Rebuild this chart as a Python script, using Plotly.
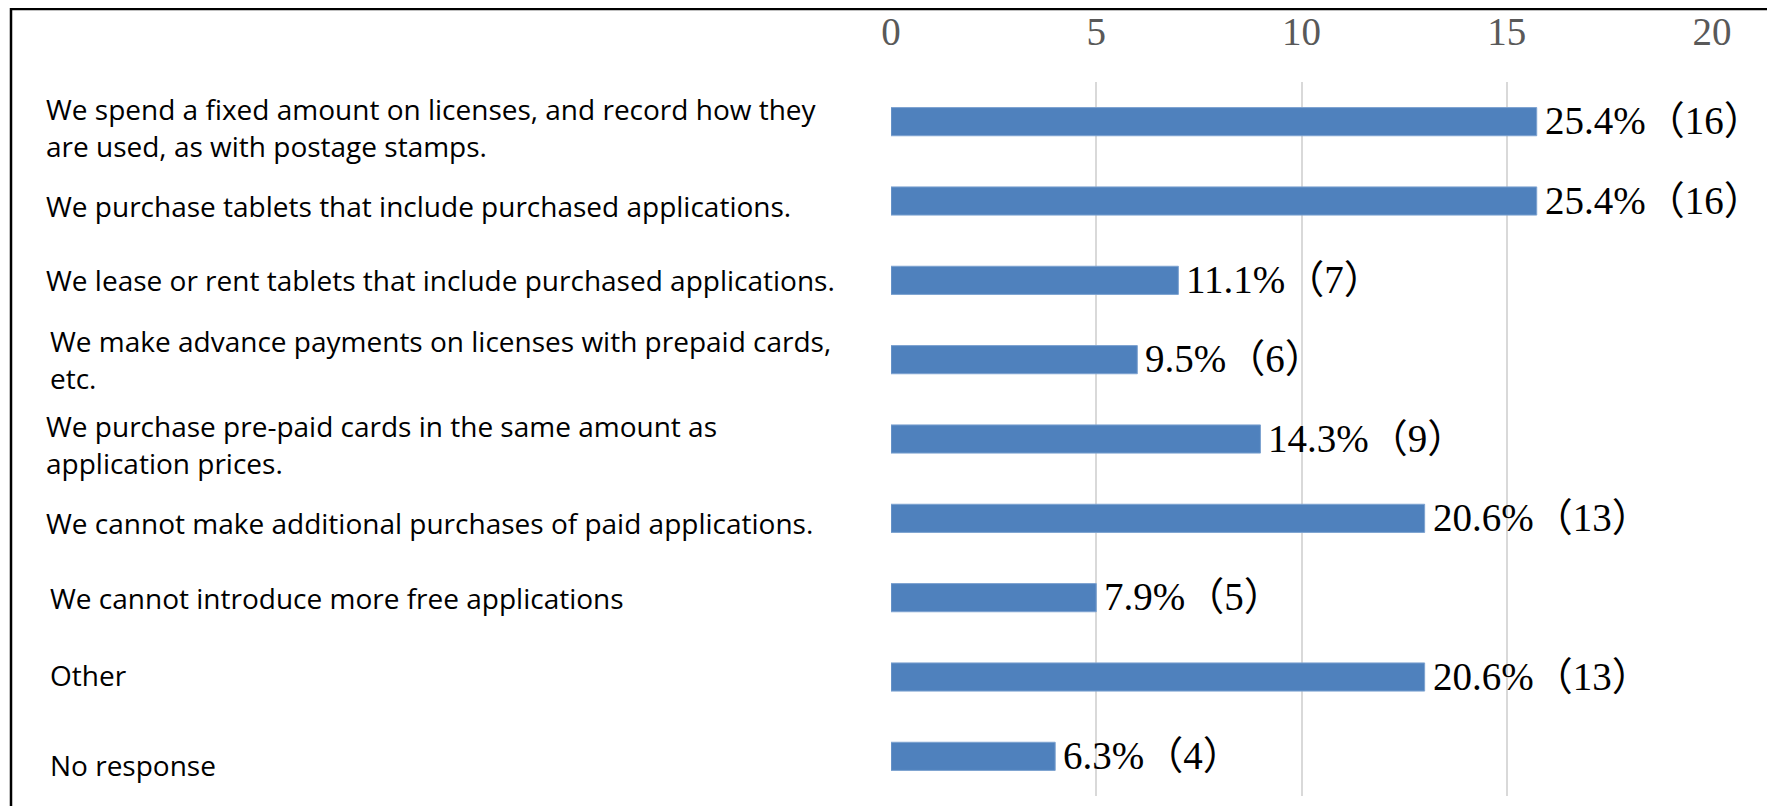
import plotly.graph_objects as go

# ---- data ----
categories = [
    "We spend a fixed amount on licenses, and record how they<br>are used, as with postage stamps.",
    "We purchase tablets that include purchased applications.",
    "We lease or rent tablets that include purchased applications.",
    "We make advance payments on licenses with prepaid cards,<br>etc.",
    "We purchase pre-paid cards in the same amount as<br>application prices.",
    "We cannot make additional purchases of paid applications.",
    "We cannot introduce more free applications",
    "Other",
    "No response",
]
counts = [16, 16, 7, 6, 9, 13, 5, 13, 4]
percents = ["25.4", "25.4", "11.1", "9.5", "14.3", "20.6", "7.9", "20.6", "6.3"]
# bar lengths as drawn in the picture (the two 16-bars are drawn slightly short)
bar_lengths = [15.73, 15.73, 7, 6, 9, 13, 5, 13, 4]
tick_values = [0, 5, 10, 15, 20]

# ---- layout geometry (pixels, figure coordinates; page has an 8px body margin) ----
OFF = 8
W, H = 1775, 806
ML = 891 - OFF
MT = 82 - OFF
MR = W - (1712 - OFF)
MB = H - (796 - OFF)
PW = W - ML - MR
PH = H - MT - MB


def px_x(px):
    return (px - OFF - ML) / PW


def px_y(py):
    return (H - MB - (py - OFF)) / PH


label_x_px = [44, 44, 44, 48, 44, 44, 48, 48, 48]
label_nudge_px = [6, 5, 0, 0, 5, 5, 0, -2, 9]
LINE_GAP = 37

ypos = list(range(len(categories)))
texts = [f"{p}%（{c}）" for p, c in zip(percents, counts)]

serif = "'Liberation Serif', 'Noto Sans CJK JP', serif"
sans = "'Open Sans', 'Noto Sans', sans-serif"

fig = go.Figure(
    go.Bar(
        x=bar_lengths,
        y=ypos,
        orientation="h",
        marker=dict(color="#4F81BD", line=dict(color="#7DA2D0", width=1)),
        width=0.355,
        hoverinfo="skip",
    )
)

annotations = []
for i, cat in enumerate(categories):
    lines = cat.split("<br>")
    n = len(lines)
    for k, line in enumerate(lines):
        dy = (k - (n - 1) / 2) * LINE_GAP + label_nudge_px[i]
        annotations.append(
            dict(
                x=px_x(label_x_px[i]),
                xref="paper",
                y=i,
                yref="y",
                text=line,
                showarrow=False,
                xanchor="left",
                yanchor="middle",
                align="left",
                yshift=-dy,
                font=dict(family=sans, size=28, color="#000000"),
            )
        )

for i, t in enumerate(texts):
    annotations.append(
        dict(
            x=bar_lengths[i],
            xref="x",
            y=i,
            yref="y",
            text=t,
            showarrow=False,
            xanchor="left",
            yanchor="middle",
            xshift=6,
            yshift=1,
            font=dict(family=serif, size=39, color="#000000"),
        )
    )

shapes = [
    dict(
        type="path",
        xref="paper",
        yref="paper",
        path=(
            f"M {px_x(11)},{px_y(840)} L {px_x(11)},{px_y(9)} "
            f"L {px_x(1771)},{px_y(9)} L {px_x(1771)},{px_y(840)}"
        ),
        line=dict(color="#000000", width=2.5),
        layer="above",
    )
]

fig.update_layout(
    width=W,
    height=H,
    margin=dict(l=ML, r=MR, t=MT, b=MB, pad=0, autoexpand=False),
    paper_bgcolor="white",
    plot_bgcolor="white",
    showlegend=False,
    annotations=annotations,
    shapes=shapes,
    xaxis=dict(
        range=[0, 20],
        side="top",
        tickmode="array",
        tickvals=tick_values,
        ticktext=[str(v) for v in tick_values],
        showgrid=True,
        gridcolor="#D9D9D9",
        gridwidth=2,
        zeroline=False,
        showline=False,
        ticks="",
        automargin=False,
        ticklabelstandoff=28,
        tickfont=dict(family=serif, size=39, color="#595959"),
        fixedrange=True,
    ),
    yaxis=dict(
        range=[len(categories) - 0.5, -0.5],
        showticklabels=False,
        showgrid=False,
        zeroline=False,
        showline=False,
        ticks="",
        automargin=False,
        fixedrange=True,
    ),
)

fig.write_html("out.html")
